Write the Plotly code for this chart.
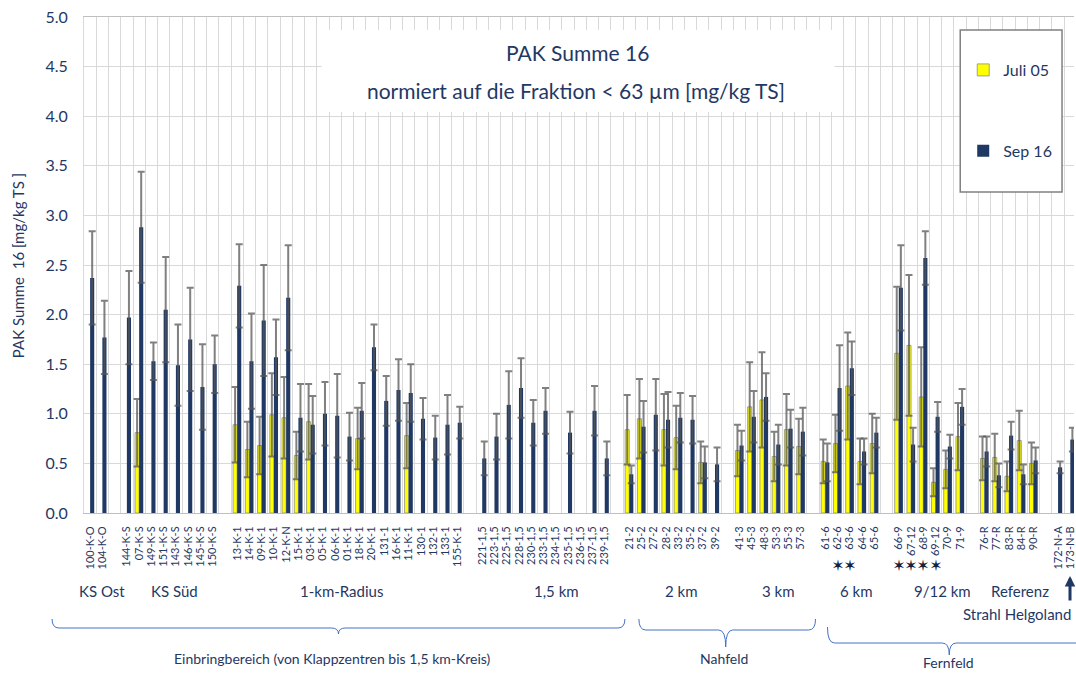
import plotly.graph_objects as go

# ---------------- data ----------------
stations = [
    "100-K-O", "104-K-O", "",
    "144-K-S", "07-K-S", "149-K-S", "151-K-S", "143-K-S", "146-K-S", "145-K-S", "150-K-S", "",
    "13-K-1", "14-K-1", "09-K-1", "10-K-1", "12-K-N", "15-K-1", "03-K-1", "05-K-1", "06-K-1", "01-K-1",
    "18-K-1", "20-K-1", "131-1", "16-K-1", "11-K-1", "130-1", "132-1", "133-1", "155-K-1", "",
    "221-1,5", "223-1,5", "225-1,5", "228-1,5", "230-1,5", "233-1,5", "234-1,5", "235-1,5", "236-1,5",
    "237-1,5", "239-1,5", "",
    "21-2", "25-2", "27-2", "28-2", "33-2", "35-2", "37-2", "39-2", "",
    "41-3", "45-3", "48-3", "53-3", "55-3", "57-3", "",
    "61-6", "62-6", "63-6", "64-6", "65-6", "",
    "66-9", "67-12", "68-9", "69-12", "70-9", "71-9", "",
    "76-R", "77-R", "83-R", "84-R", "90-R", "",
    "172-N-A", "173-N-B",
]

N = None
juli_05 = [
    N, N, N,
    N, 0.81, N, N, N, N, N, N, N,
    0.89, 0.64, 0.68, 0.99, 0.96, 0.58, 0.92, N, N, N,
    0.75, N, N, N, 0.78, N, N, N, N, N,
    N, N, N, N, N, N, N, N, N, N, N, N,
    0.84, 0.95, N, 0.84, 0.76, N, 0.51, N, N,
    0.63, 1.07, 1.14, 0.57, 0.84, 0.67, N,
    0.52, 0.70, 1.28, 0.52, 0.70, N,
    1.61, 1.69, 1.17, 0.31, 0.44, 0.77, N,
    0.55, 0.56, 0.37, 0.73, 0.50, N,
    N, N,
]
juli_05_err = [
    N, N, N,
    N, 0.34, N, N, N, N, N, N, N,
    0.38, 0.28, 0.29, 0.42, 0.41, 0.24, 0.38, N, N, N,
    0.31, N, N, N, 0.33, N, N, N, N, N,
    N, N, N, N, N, N, N, N, N, N, N, N,
    0.35, 0.40, N, 0.36, 0.32, N, 0.21, N, N,
    0.26, 0.45, 0.48, 0.25, 0.36, 0.28, N,
    0.22, 0.29, 0.54, 0.23, 0.30, N,
    0.67, 0.71, 0.50, 0.14, 0.19, 0.34, N,
    0.22, 0.24, 0.15, 0.30, 0.21, N,
    N, N,
]
sep_16 = [
    2.37, 1.77, N,
    1.97, 2.88, 1.53, 2.05, 1.49, 1.75, 1.27, 1.50, N,
    2.29, 1.53, 1.94, 1.57, 2.17, 0.96, 0.89, 1.00, 0.98, 0.77,
    1.03, 1.67, 1.13, 1.24, 1.21, 0.95, 0.76, 0.89, 0.91, N,
    0.55, 0.77, 1.09, 1.26, 0.91, 1.03, N, 0.81, N, 1.03, 0.55, N,
    0.39, 0.87, 0.99, 0.94, 0.96, 0.94, 0.51, 0.49, N,
    0.68, 0.97, 1.17, 0.69, 0.85, 0.82, N,
    0.51, 1.26, 1.46, 0.62, 0.81, N,
    2.27, 0.69, 2.57, 0.97, 0.67, 1.07, N,
    0.62, 0.38, 0.78, 0.39, 0.53, N,
    0.46, 0.74,
]
sep_16_err = [
    0.47, 0.37, N,
    0.47, 0.56, 0.19, 0.53, 0.41, 0.52, 0.43, 0.29, N,
    0.42, 0.48, 0.56, 0.38, 0.53, 0.34, 0.29, 0.32, 0.42, 0.24,
    0.28, 0.23, 0.25, 0.31, 0.29, 0.21, 0.22, 0.30, 0.16, N,
    0.17, 0.23, 0.34, 0.30, 0.23, 0.23, N, 0.21, N, 0.25, 0.17, N,
    0.09, 0.26, 0.36, 0.28, 0.25, 0.24, 0.16, 0.17, N,
    0.15, 0.26, 0.24, 0.20, 0.19, 0.24, N,
    0.19, 0.43, 0.27, 0.13, 0.15, N,
    0.43, 0.17, 0.27, 0.15, 0.12, 0.18, N,
    0.15, 0.12, 0.14, 0.10, 0.13, N,
    0.06, 0.12,
]

y_ticks = [0.0, 0.5, 1.0, 1.5, 2.0, 2.5, 3.0, 3.5, 4.0, 4.5, 5.0]
series_names = ["Juli 05", "Sep 16"]

area_labels = ["KS Ost", "KS Süd", "1-km-Radius", "1,5 km", "2 km", "3 km", "6 km", "9/12 km", "Referenz"]
zone_labels = ["Einbringbereich (von Klappzentren bis 1,5 km-Kreis)", "Nahfeld", "Fernfeld"]
star_stations = ["62-6", "63-6", "66-9", "67-12", "68-9", "69-12"]

# ---------------- style / layout helpers ----------------
W, H = 1076, 673
PL, PT, PR, PB = 84, 17, 1076, 513
NAVY = "#1F3864"
GRID = "#D9D9D9"
FONT = "Lato"


def px_x(px):
    return (px - PL) / (PR - PL)


def px_y(py):
    return (PB - py) / (PB - PT)


xs = list(range(len(stations)))
err_style = dict(type="data", visible=True, color="rgba(85,85,85,0.75)", thickness=2, width=3.5)

fig = go.Figure()
fig.add_trace(go.Bar(
    x=xs, y=juli_05, name=series_names[0], legendgroup="a",
    marker=dict(color="#FFFF00", line=dict(color="#8C8C8C", width=0.8)),
    error_y=dict(array=juli_05_err, **err_style),
))
fig.add_trace(go.Bar(
    x=xs, y=sep_16, name=series_names[1], legendgroup="b",
    marker=dict(color=NAVY, line=dict(width=0)),
    error_y=dict(array=sep_16_err, **err_style),
))

fig.update_layout(
    width=W, height=H,
    margin=dict(l=PL, r=W - PR, t=PT, b=H - PB, pad=0),
    paper_bgcolor="white", plot_bgcolor="white",
    font=dict(family=FONT, color=NAVY),
    barmode="group", bargap=0.33, bargroupgap=0.0,
    showlegend=True,
    legend=dict(
        x=px_x(965), y=px_y(53), xanchor="left", yanchor="top",
        bgcolor="rgba(0,0,0,0)", borderwidth=0,
        font=dict(family=FONT, size=16, color=NAVY),
        tracegroupgap=57, traceorder="grouped",
    ),
)

fig.update_xaxes(
    range=[-0.5, 80.3], tickmode="array", tickvals=xs, ticktext=stations,
    tickangle=-90, tickfont=dict(family=FONT, size=11, color=NAVY),
    showgrid=False, zeroline=False, ticks="",
    showline=True, linecolor="#BFBFBF", linewidth=1, mirror=True,
    ticklabelstandoff=8, ticklabeloverflow="allow",
    minor=dict(tickmode="array", tickvals=[i + 0.5 for i in range(-1, len(stations))],
               showgrid=True, gridcolor=GRID, gridwidth=1, ticks=""),
)
fig.update_yaxes(
    range=[0, 5], tickmode="array", tickvals=y_ticks, tickformat=".1f",
    tickfont=dict(family=FONT, size=16, color=NAVY),
    showgrid=True, gridcolor=GRID, gridwidth=1, zeroline=False,
    showline=True, linecolor=GRID, linewidth=1, ticks="", ticklabelstandoff=12,
)

shapes = []
# title text box (white) and legend frame
shapes.append(dict(type="rect", xref="paper", yref="paper", layer="above",
                   x0=px_x(322), x1=px_x(836), y0=px_y(112), y1=px_y(30),
                   fillcolor="white", line=dict(width=0)))
shapes.append(dict(type="rect", xref="paper", yref="paper", layer="above",
                   x0=px_x(962), x1=px_x(1064), y0=px_y(192), y1=px_y(30),
                   fillcolor="white", line=dict(color="#808080", width=1.5)))


def brace(x1, x2, xc, ytop, yh, ytip, r=7):
    pts = [
        f"M{px_x(x1)},{px_y(ytop)}",
        f"Q{px_x(x1)},{px_y(yh)} {px_x(x1 + r)},{px_y(yh)}",
        f"L{px_x(xc - r)},{px_y(yh)}",
        f"Q{px_x(xc)},{px_y(yh)} {px_x(xc)},{px_y(ytip)}",
        f"Q{px_x(xc)},{px_y(yh)} {px_x(xc + r)},{px_y(yh)}",
        f"L{px_x(x2 - r)},{px_y(yh)}",
        f"Q{px_x(x2)},{px_y(yh)} {px_x(x2)},{px_y(ytop)}",
    ]
    return dict(type="path", xref="paper", yref="paper", path=" ".join(pts),
                line=dict(color="#4472C4", width=1))


shapes.append(brace(52, 626, 339, 619, 628, 634))
shapes.append(brace(640, 817, 727, 619, 630, 647))
shapes.append(brace(829, 1100, 951, 627, 643, 655))
fig.update_layout(shapes=shapes)


def label(text, px, py, size, xanchor="center", angle=0, family=FONT, color=NAVY, xref="paper", x=None):
    return dict(text=text, x=px_x(px) if x is None else x, y=px_y(py), xref=xref, yref="paper",
                xanchor=xanchor, yanchor="middle", textangle=angle, showarrow=False,
                font=dict(family=family, size=size, color=color))


ann = []
ann.append(label("PAK Summe 16", 578, 52, 21))
ann.append(label("normiert auf die Fraktion < 63 µm [mg/kg TS]", 577, 90, 21))
ann.append(label("PAK Summe  16 [mg/kg TS ]", 18, 266, 15, angle=-90))
area_px = [102, 175, 342, 557, 683, 780, 858, 944, 1022]
for lab, p in zip(area_labels, area_px):
    ann.append(label(lab, p, 591, 15))
ann.append(label("Strahl Helgoland", 1075, 614, 15, xanchor="right"))
zone_px = [(333, 658), (725, 658), (950, 662)]
for lab, (px, py) in zip(zone_labels, zone_px):
    ann.append(label(lab, px, py, 14))
for s in star_stations:
    a = label("✶", 0, 565, 16, family="DejaVu Sans", color="#14213D",
              xref="x", x=stations.index(s))
    a["width"] = 10
    ann.append(a)
ann.append(dict(text="", x=px_x(1072), y=px_y(576), xref="paper", yref="paper",
                showarrow=True, ax=0, ay=26, arrowhead=2, arrowsize=0.7, arrowwidth=3,
                arrowcolor=NAVY))
fig.update_layout(annotations=ann)

fig.write_html("out.html", config={"displayModeBar": False},
               post_script="document.body.style.margin='0px';")
